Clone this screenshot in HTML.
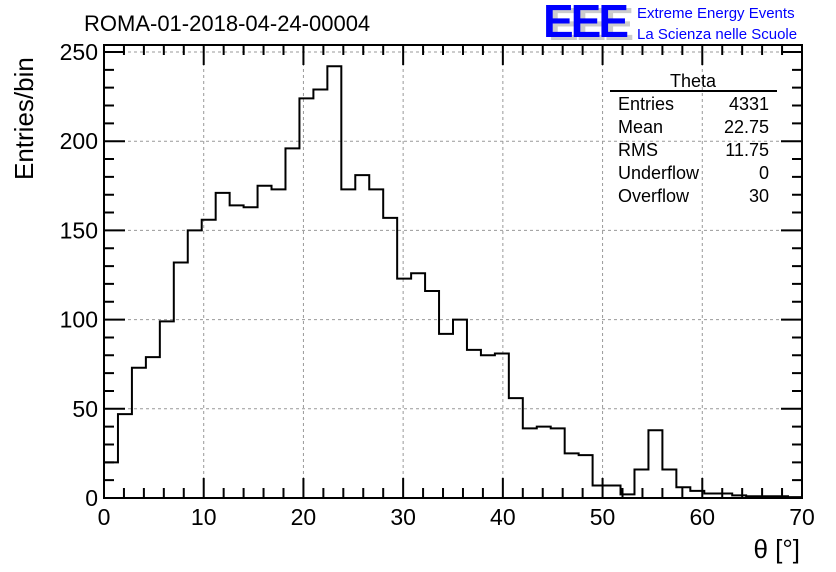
<!DOCTYPE html>
<html><head><meta charset="utf-8"><style>
body{margin:0;background:#fff;}
svg{display:block;font-family:"Liberation Sans",sans-serif;}
</style></head><body>
<svg id="chart" width="836" height="572">
<rect width="836" height="572" fill="#fff"/>
<g id="grid"></g>
<g id="ticks"></g>
<path id="hist" fill="none" stroke="#000" stroke-width="2"/>
<rect x="104" y="45" width="698" height="453" fill="none" stroke="#000" stroke-width="2"/>
<g id="xlabels" font-size="23" text-anchor="middle"></g>
<g id="ylabels" font-size="23" text-anchor="end"></g>
<text x="84" y="31" font-size="22">ROMA-01-2018-04-24-00004</text>
<text x="800" y="558" font-size="26" text-anchor="end">θ [°]</text>
<text transform="translate(33,180) rotate(-90)" font-size="26">Entries/bin</text>
<g>
<text x="548" y="40" font-size="46" font-weight="bold" fill="#ccc" style="letter-spacing:-3px">EEE</text>
<text x="543" y="37" font-size="46" font-weight="bold" fill="#0000ff" style="letter-spacing:-3px">EEE</text>
<text x="637" y="18" font-size="15" fill="#0000ff">Extreme Energy Events</text>
<text x="637" y="39" font-size="15" fill="#0000ff">La Scienza nelle Scuole</text>
</g>
<g font-size="18">
<text x="693" y="87" text-anchor="middle">Theta</text>
<line x1="610" y1="91" x2="777" y2="91" stroke="#000" stroke-width="2"/>
<text x="618" y="110">Entries</text><text x="769" y="110" text-anchor="end">4331</text>
<text x="618" y="133">Mean</text><text x="769" y="133" text-anchor="end">22.75</text>
<text x="618" y="156">RMS</text><text x="769" y="156" text-anchor="end">11.75</text>
<text x="618" y="179">Underflow</text><text x="769" y="179" text-anchor="end">0</text>
<text x="618" y="202">Overflow</text><text x="769" y="202" text-anchor="end">30</text>
</g>
</svg>
<script>
const binWidth = 1.4;
const counts = [20,47,73,79,99,132,150,156,171,164,163,175,173,196,224,229,242,173,181,173,157,123,126,116,92,100,83,80,81,56,39,40,39,25,24,7,7,2,16,38,16,6,4,2.5,2.5,1.5,1,1,1,0.5];
const xTicks = [0,10,20,30,40,50,60,70];
const yTicks = [0,50,100,150,200,250];
const X0=104,X1=802,Y0=498,Y1=45;
const xScale = v => X0 + (v-0)/(70-0)*(X1-X0);
const yScale = v => Y0 - v/250*(Y0-52);
const NS="http://www.w3.org/2000/svg";
function mk(tag, parent, attrs){const e=document.createElementNS(NS,tag);for(const k in attrs)e.setAttribute(k,attrs[k]);parent.appendChild(e);return e;}
const grid=document.getElementById('grid'), ticks=document.getElementById('ticks');
xTicks.forEach(t=>{
  const x=xScale(t);
  if(t>0&&t<70){const l=mk('line',grid,{x1:x,x2:x,y1:Y1,y2:Y0,stroke:'#999','stroke-dasharray':'3,3'});
  
  }
  const lb=mk('text',document.getElementById('xlabels'),{x:x,y:525});lb.textContent=t;
  
  
});
yTicks.forEach(t=>{
  const y=yScale(t);
  if(t>0){const l=mk('line',grid,{x1:X0,x2:X1,y1:y,y2:y,stroke:'#999','stroke-dasharray':'3,3'});
  
  }
  const lb=mk('text',document.getElementById('ylabels'),{x:98,y:y+8});lb.textContent=t;
  
  
});
let td='';
for(let v=0;v<=70;v+=2){const x=xScale(v);const L=(v%10===0)?20:10;td+=`M${x},${Y0}V${Y0-L}M${x},${Y1}V${Y1+L}`;}
for(let v=0;v<=250;v+=10){const y=yScale(v);const L=(v%50===0)?21:10;td+=`M${X0},${y}H${X0+L}M${X1},${y}H${X1-L}`;}
mk('path',ticks,{d:td,stroke:'#000','stroke-width':2,fill:'none'});
let d=`M${xScale(0)},${yScale(0)}`;
counts.forEach((c,i)=>{d+=`V${yScale(c)}H${xScale((i+1)*binWidth)}`;});
d+=`V${yScale(0)}`;
document.getElementById('hist').setAttribute('d',d);
</script>
</body></html>
